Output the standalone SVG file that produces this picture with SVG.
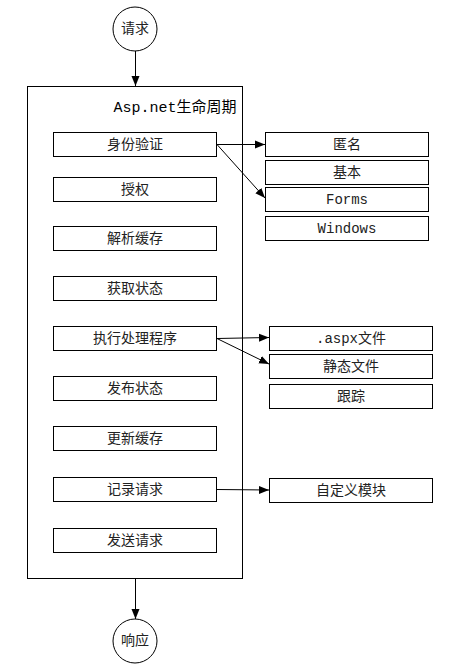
<svg xmlns="http://www.w3.org/2000/svg" width="460" height="672" viewBox="0 0 460 672">
<style>
.b{fill:#fff;stroke:#000;stroke-width:1}
.t{font-family:"Liberation Mono","Noto Sans CJK SC",monospace;font-size:14px;fill:#222;text-anchor:middle;dominant-baseline:central}
.c{stroke:#000;stroke-width:1;fill:none;marker-end:url(#ah)}
</style>
<defs>
<marker id="ah" viewBox="0 0 10 10" refX="10" refY="5" markerWidth="10" markerHeight="10" markerUnits="userSpaceOnUse" orient="auto">
<path d="M0,1 L10,5 L0,9 Z" fill="#000"/>
</marker>
</defs>
<rect width="460" height="672" fill="#fff"/>
<g id="container"><rect class="b" x="27.5" y="86.5" width="215" height="492"/>
<text class="t" x="175" y="108" style="font-size:15px;fill:#000">Asp.net生命周期</text></g>
<g id="start"><circle class="b" cx="135" cy="29" r="22"/><text class="t" x="135" y="29">请求</text></g>
<g id="end"><circle class="b" cx="135" cy="641" r="22"/><text class="t" x="135" y="641">响应</text></g>
<g id="n1"><rect class="b" x="53.5" y="132.5" width="163" height="24"/><text class="t" x="135" y="144.5">身份验证</text></g>
<g id="n2"><rect class="b" x="53.5" y="177.5" width="163" height="24"/><text class="t" x="135" y="189.5">授权</text></g>
<g id="n3"><rect class="b" x="53.5" y="226.5" width="163" height="24"/><text class="t" x="135" y="238.5">解析缓存</text></g>
<g id="n4"><rect class="b" x="53.5" y="276.5" width="163" height="24"/><text class="t" x="135" y="288.5">获取状态</text></g>
<g id="n5"><rect class="b" x="53.5" y="326.5" width="163" height="24"/><text class="t" x="135" y="338.5">执行处理程序</text></g>
<g id="n6"><rect class="b" x="53.5" y="376.5" width="163" height="24"/><text class="t" x="135" y="388.5">发布状态</text></g>
<g id="n7"><rect class="b" x="53.5" y="426.5" width="163" height="24"/><text class="t" x="135" y="438.5">更新缓存</text></g>
<g id="n8"><rect class="b" x="53.5" y="477.5" width="163" height="24"/><text class="t" x="135" y="489.5">记录请求</text></g>
<g id="n9"><rect class="b" x="53.5" y="528.5" width="163" height="24"/><text class="t" x="135" y="540.5">发送请求</text></g>
<g id="a1"><rect class="b" x="265.5" y="132.5" width="163" height="24"/><text class="t" x="347" y="144.5">匿名</text></g>
<g id="a2"><rect class="b" x="265.5" y="160.5" width="163" height="24"/><text class="t" x="347" y="172.5">基本</text></g>
<g id="a3"><rect class="b" x="265.5" y="187.5" width="163" height="24"/><text class="t" x="347" y="199.5">Forms</text></g>
<g id="a4"><rect class="b" x="265.5" y="216.5" width="163" height="24"/><text class="t" x="347" y="228.5">Windows</text></g>
<g id="h1"><rect class="b" x="269.5" y="326.5" width="163" height="24"/><text class="t" x="351" y="338.5">.aspx文件</text></g>
<g id="h2"><rect class="b" x="269.5" y="354.5" width="163" height="24"/><text class="t" x="351" y="366.5">静态文件</text></g>
<g id="h3"><rect class="b" x="269.5" y="384.5" width="163" height="24"/><text class="t" x="351" y="396.5">跟踪</text></g>
<g id="m1"><rect class="b" x="269.5" y="478.5" width="163" height="24"/><text class="t" x="351" y="490.5">自定义模块</text></g>
<g id="connectors">
<line class="c" x1="135.5" y1="51" x2="135.5" y2="86"/>
<line class="c" x1="135.5" y1="579" x2="135.5" y2="619"/>
<line class="c" x1="217" y1="144.5" x2="265" y2="144.5"/>
<line class="c" x1="217" y1="144.5" x2="265" y2="198"/>
<line class="c" x1="217" y1="338.5" x2="269" y2="337.5"/>
<line class="c" x1="217" y1="338.5" x2="269" y2="364"/>
<line class="c" x1="217" y1="489.5" x2="269" y2="490"/>
</g>
</svg>
